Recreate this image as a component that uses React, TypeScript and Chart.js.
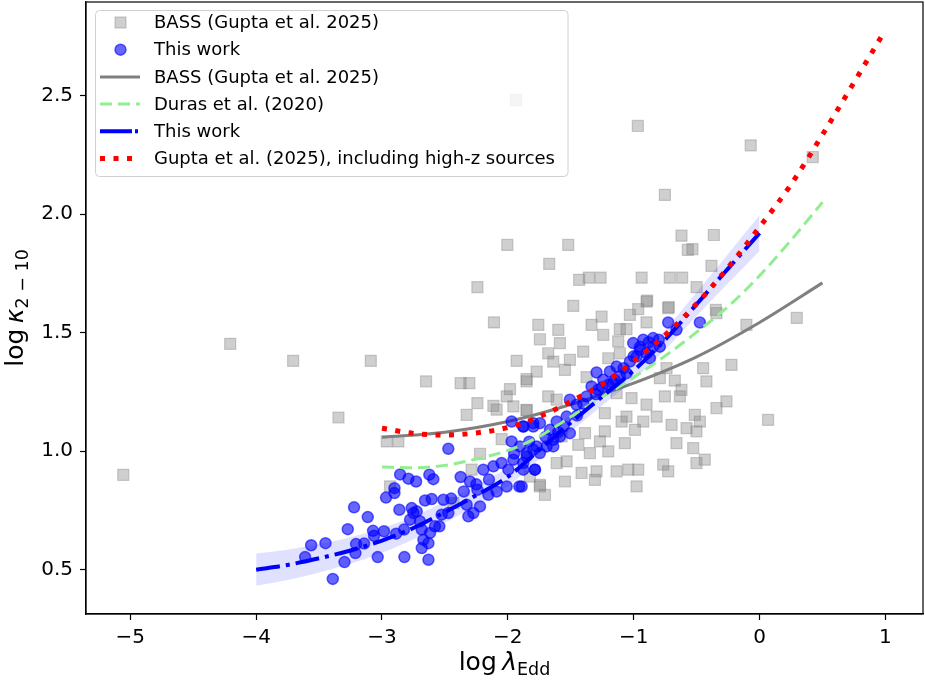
import React, { useEffect, useRef } from "react";
import { Chart, registerables } from "chart.js";

Chart.register(...registerables);

const W = 925;
const H = 683;

// ---------- data (x = log λEdd, y = log κ2-10) ----------
const bassPoints: [number, number][] = [
  [-2.650, 1.294], [-2.375, 1.287], [-2.306, 1.287], [-1.983, 1.262], [-1.851, 1.294], [-2.009, 1.231],
  [-2.242, 1.203], [-2.115, 1.191], [-1.956, 1.189], [-1.851, 1.172], [-2.327, 1.153], [-2.089, 1.175],
  [-3.346, 1.142], [-2.962, 1.041], [-2.870, 1.041], [-2.049, 1.051], [-2.221, 0.989], [-2.288, 0.922],
  [-2.936, 0.851], [-2.433, 0.781], [-1.824, 0.893], [-1.745, 0.851],
  [-1.480, 1.613], [-0.898, 1.631], [-0.726, 1.603], [-1.030, 1.575], [-1.255, 1.568], [-1.758, 1.533],
  [-1.599, 1.512], [-1.335, 1.533], [-1.110, 1.515], [-1.057, 1.515], [-0.898, 1.543], [-1.242, 1.491],
  [-1.745, 1.472], [-1.586, 1.456], [-1.123, 1.463], [-1.401, 1.420], [-1.679, 1.413], [-1.507, 1.385],
  [-1.639, 1.378], [-1.202, 1.392], [-1.771, 1.336], [-1.851, 1.304], [-1.546, 1.343], [-1.374, 1.312],
  [-1.110, 1.413], [-0.739, 1.350], [-0.792, 1.308], [-0.673, 1.298], [-0.620, 1.259], [-0.752, 1.231],
  [-1.017, 1.224], [-1.136, 1.245], [-1.679, 1.231], [-1.612, 1.217], [-1.851, 1.174], [-1.229, 1.160],
  [-0.898, 1.196], [-0.818, 1.146], [-1.057, 1.146], [-0.924, 1.125], [-0.990, 1.090], [-1.096, 1.125],
  [-1.229, 1.083], [-1.387, 1.076], [-1.268, 1.041], [-1.070, 1.034], [-1.440, 1.027], [-1.348, 0.992],
  [-1.202, 0.999], [-0.699, 1.111], [-0.580, 1.097], [-0.501, 1.083], [-0.514, 1.153], [-0.474, 1.125],
  [-0.660, 1.034], [-0.527, 1.013], [-0.435, 0.964], [-0.342, 1.182], [-0.263, 1.210], [-0.765, 0.943],
  [-0.726, 0.915], [-0.964, 0.922], [-1.043, 0.922], [-1.136, 0.915], [-1.295, 0.915], [-1.414, 0.908],
  [-1.533, 0.957], [-1.612, 0.950], [-1.745, 0.858], [-1.705, 0.816], [-1.546, 0.872], [-1.308, 0.879],
  [-0.977, 0.851], [-0.448, 1.350], [-0.422, 1.294], [-0.223, 1.364], [-0.104, 1.533], [-0.342, 1.582],
  [0.068, 1.132], [-0.633, 1.231], [-0.501, 0.950], [-1.573, 1.062],
  [-5.056, 0.900], [-4.206, 1.453], [-3.706, 1.381], [-3.089, 1.381], [-1.935, 2.481], [-0.967, 2.372],
  [-0.752, 2.081], [-0.620, 1.909], [-0.570, 1.849], [-2.004, 1.870], [-1.520, 1.870], [-1.671, 1.790],
  [-2.242, 1.692], [-1.433, 1.723], [-1.356, 1.732], [-1.263, 1.732], [-0.937, 1.732], [-0.713, 1.732],
  [-0.615, 1.732], [-0.070, 2.290], [0.423, 2.241], [0.296, 1.562], [-2.110, 1.543], [-1.930, 1.381],
  [-0.363, 1.912], [-0.533, 1.852], [-0.382, 1.782], [-0.500, 1.692], [-0.893, 1.635], [-0.721, 1.608],
  [-0.964, 1.599], [-0.347, 1.596],
];

const workPoints: [number, number][] = [
  [-3.563, 0.603], [-3.449, 0.612], [-3.611, 0.553], [-3.391, 0.461], [-3.298, 0.532], [-3.272, 0.671],
  [-3.222, 0.763], [-3.113, 0.722], [-3.206, 0.608], [-3.142, 0.610], [-3.211, 0.570], [-3.071, 0.664],
  [-3.063, 0.643], [-3.034, 0.553], [-2.984, 0.662], [-2.968, 0.804], [-2.901, 0.844], [-2.901, 0.823],
  [-2.862, 0.753], [-2.856, 0.902], [-2.790, 0.884], [-2.729, 0.872], [-2.822, 0.553], [-2.888, 0.652],
  [-2.825, 0.669], [-2.764, 0.760], [-2.750, 0.739], [-2.724, 0.746], [-2.777, 0.711], [-2.698, 0.704],
  [-2.658, 0.792], [-2.605, 0.798], [-2.512, 0.795], [-2.684, 0.669], [-2.671, 0.626], [-2.631, 0.612],
  [-2.684, 0.591], [-2.618, 0.655], [-2.579, 0.683], [-2.544, 0.683], [-2.526, 0.732], [-2.473, 0.739],
  [-2.631, 0.542], [-2.624, 0.901], [-2.592, 0.882], [-2.473, 1.010], [-2.375, 0.891], [-2.301, 0.872],
  [-2.327, 0.774], [-2.314, 0.725], [-2.274, 0.739], [-2.221, 0.767], [-2.242, 0.837], [-2.155, 0.816],
  [-2.089, 0.830], [-2.195, 0.922], [-2.115, 0.936], [-2.009, 0.851], [-1.909, 0.851], [-1.877, 0.922],
  [-1.785, 0.922], [-1.996, 0.922], [-1.956, 0.964], [-1.851, 0.978], [-1.904, 1.020], [-1.798, 1.006],
  [-1.970, 1.041], [-1.877, 1.104], [-1.798, 1.104], [-1.970, 1.125],
  [-0.726, 1.543], [-0.660, 1.512], [-0.474, 1.543], [-1.004, 1.456], [-0.924, 1.470], [-0.845, 1.477],
  [-0.792, 1.441], [-0.898, 1.413], [-0.977, 1.399], [-1.030, 1.378], [-0.871, 1.392], [-1.136, 1.357],
  [-1.189, 1.336], [-1.295, 1.332], [-1.242, 1.301], [-1.335, 1.273], [-1.282, 1.259], [-1.374, 1.231],
  [-1.507, 1.217], [-1.454, 1.196], [-1.533, 1.146], [-1.612, 1.125], [-1.665, 1.090], [-1.745, 1.118],
  [-1.798, 1.118], [-1.877, 1.104], [-1.559, 1.104], [-1.507, 1.076], [-1.639, 1.048], [-1.692, 1.020],
  [-1.771, 1.020], [-1.851, 0.992], [-1.877, 0.950], [-1.784, 0.922], [-1.890, 0.851], [-1.745, 0.992],
  [-1.639, 1.020], [-1.586, 1.062], [-1.110, 1.315], [-1.163, 1.287], [-1.057, 1.329], [-0.845, 1.441],
  [-0.951, 1.427],
  [-1.400, 1.200], [-1.300, 1.240], [-1.200, 1.280], [-1.150, 1.300], [-1.000, 1.400], [-0.950, 1.440],
  [-0.880, 1.460], [-0.800, 1.470], [-1.600, 1.080], [-1.700, 1.060], [-1.830, 1.040], [-1.950, 0.990],
  [-2.050, 0.950], [-2.150, 0.880], [-2.250, 0.860], [-2.350, 0.830], [-2.450, 0.800], [-1.450, 1.150],
  [-1.250, 1.270], [-1.080, 1.350],
];

// fitted relations
const bassFitX = [-3, -2.5, -2, -1.5, -1, -0.5, 0, 0.5];
const bassFitY = [1.059, 1.080, 1.125, 1.197, 1.287, 1.398, 1.543, 1.710];

const durasX = [-3, -2.75, -2.5, -2.25, -2, -1.75, -1.5, -1.25, -1, -0.75, -0.5, -0.25, 0, 0.25, 0.5];
const durasY = [0.933, 0.930, 0.940, 0.967, 1.003, 1.062, 1.145, 1.228, 1.311, 1.402, 1.502, 1.610, 1.740, 1.890, 2.050];

const workFitX = [-4, -3.75, -3.5, -3.25, -3, -2.75, -2.5, -2.25, -2, -1.75, -1.5, -1.25, -1, -0.75, -0.5, -0.25, 0];
const workFitY = [0.500, 0.520, 0.548, 0.581, 0.623, 0.676, 0.743, 0.814, 0.892, 1.005, 1.120, 1.230, 1.340, 1.470, 1.620, 1.770, 1.920];
const workLow = [0.432, 0.456, 0.488, 0.525, 0.571, 0.628, 0.698, 0.772, 0.852, 0.967, 1.083, 1.193, 1.302, 1.428, 1.570, 1.708, 1.845];
const workHigh = [0.568, 0.584, 0.608, 0.637, 0.675, 0.724, 0.788, 0.856, 0.932, 1.043, 1.157, 1.267, 1.378, 1.512, 1.670, 1.832, 1.995];

const guptaX = [-3, -2.75, -2.5, -2.25, -2, -1.75, -1.5, -1.25, -1, -0.75, -0.5, -0.25, 0, 0.25, 0.5, 0.75, 1];
const guptaY = [1.097, 1.075, 1.068, 1.077, 1.100, 1.145, 1.210, 1.282, 1.380, 1.490, 1.622, 1.775, 1.945, 2.125, 2.335, 2.555, 2.777];

const xTicks = [-5, -4, -3, -2, -1, 0, 1];
const yTicks = [0.5, 1.0, 1.5, 2.0, 2.5];

const legendLabels = [
  "BASS (Gupta et al. 2025)",
  "This work",
  "BASS (Gupta et al. 2025)",
  "Duras et al. (2020)",
  "This work",
  "Gupta et al. (2025), including high-z sources",
];

// ---------- styles ----------
const FONT = '"DejaVu Sans", "Liberation Sans", sans-serif';
const GRAY_FILL = "rgba(128,128,128,0.38)";
const BLUE_FILL = "rgba(0,0,255,0.6)";
const GRAY_LINE = "#808080";
const GREEN = "#90ee90";
const BLUE = "#0000ff";
const RED = "#ff0000";
const DASH_GREEN = [12, 6];
const DASH_BLUE = [24, 6, 4, 6];
const DASH_RED = [5, 8.5];

const toXY = (xs: number[], ys: number[]) => xs.map((x, i) => ({ x, y: ys[i] }));
const ptsXY = (p: [number, number][]) => p.map(([x, y]) => ({ x, y }));

const minusFmt = (v: number) => (v < 0 ? "\u2212" + Math.abs(v) : String(v));

const zeroPad = (s: any) => {
  s.paddingTop = 0;
  s.paddingBottom = 0;
  s.paddingLeft = 0;
  s.paddingRight = 0;
};

const framePlugin = {
  id: "frame",
  afterDatasetsDraw(chart: any) {
    const { ctx, chartArea: a } = chart;
    ctx.save();
    ctx.strokeStyle = "#000";
    ctx.lineWidth = 1.2;
    ctx.strokeRect(a.left, a.top, a.right - a.left, a.bottom - a.top);
    ctx.restore();
  },
};

function drawMath(ctx: CanvasRenderingContext2D, main: string, sym: string, sub: string, size: number) {
  // draws centred at (0,0) baseline
  const fMain = `${size}px ${FONT}`;
  const fSym = `italic ${size}px ${FONT}`;
  const fSub = `${size * 0.7}px ${FONT}`;
  ctx.font = fMain;
  const w1 = ctx.measureText(main).width;
  const gap = size * 0.22;
  ctx.font = fSym;
  const w2 = ctx.measureText(sym).width;
  ctx.font = fSub;
  const w3 = ctx.measureText(sub).width;
  const total = w1 + gap + w2 + w3;
  let x = -total / 2;
  ctx.textBaseline = "alphabetic";
  ctx.textAlign = "left";
  ctx.fillStyle = "#000";
  ctx.font = fMain;
  ctx.fillText(main, x, 0);
  x += w1 + gap;
  ctx.font = fSym;
  ctx.fillText(sym, x, 0);
  x += w2;
  ctx.font = fSub;
  ctx.fillText(sub, x, size * 0.2);
}

const titlePlugin = {
  id: "axisTitles",
  afterDraw(chart: any) {
    const { ctx, chartArea: a } = chart;
    ctx.save();
    ctx.translate((a.left + a.right) / 2, 670);
    drawMath(ctx, "log", "\u03bb", "Edd", 25);
    ctx.restore();
    ctx.save();
    ctx.translate(23, (a.top + a.bottom) / 2);
    ctx.rotate(-Math.PI / 2);
    drawMath(ctx, "log", "\u03ba", "2 \u2212 10", 25);
    ctx.restore();
  },
};

const legendPlugin = {
  id: "mplLegend",
  afterDraw(chart: any) {
    const ctx: CanvasRenderingContext2D = chart.ctx;
    const bx = 95.5, by = 10.5, bw = 472.5, bh = 166, r = 4;
    ctx.save();
    ctx.beginPath();
    ctx.moveTo(bx + r, by);
    ctx.lineTo(bx + bw - r, by);
    ctx.arcTo(bx + bw, by, bx + bw, by + r, r);
    ctx.lineTo(bx + bw, by + bh - r);
    ctx.arcTo(bx + bw, by + bh, bx + bw - r, by + bh, r);
    ctx.lineTo(bx + r, by + bh);
    ctx.arcTo(bx, by + bh, bx, by + bh - r, r);
    ctx.lineTo(bx, by + r);
    ctx.arcTo(bx, by, bx + r, by, r);
    ctx.closePath();
    ctx.fillStyle = "rgba(255,255,255,0.8)";
    ctx.fill();
    ctx.strokeStyle = "#d0d0d0";
    ctx.lineWidth = 1;
    ctx.stroke();

    const rowY = (i: number) => 22.5 + 27.2 * i;
    const hx0 = 100, hx1 = 140, hxc = 120.5;
    // row 0: gray square
    ctx.fillStyle = GRAY_FILL;
    ctx.strokeStyle = GRAY_FILL;
    ctx.lineWidth = 1.2;
    ctx.fillRect(hxc - 5.5, rowY(0) - 5.5, 11, 11);
    ctx.strokeRect(hxc - 5.5, rowY(0) - 5.5, 11, 11);
    // row 1: blue circle
    ctx.beginPath();
    ctx.arc(hxc, rowY(1), 5.5, 0, Math.PI * 2);
    ctx.fillStyle = BLUE_FILL;
    ctx.fill();
    ctx.strokeStyle = BLUE_FILL;
    ctx.lineWidth = 1.5;
    ctx.stroke();
    const line = (i: number, color: string, w: number, dash: number[]) => {
      ctx.beginPath();
      ctx.setLineDash(dash);
      ctx.lineCap = "butt";
      ctx.strokeStyle = color;
      ctx.lineWidth = w;
      ctx.moveTo(hx0, rowY(i));
      ctx.lineTo(hx1, rowY(i));
      ctx.stroke();
      ctx.setLineDash([]);
    };
    line(2, GRAY_LINE, 3, []);
    line(3, GREEN, 3, DASH_GREEN);
    line(4, BLUE, 4, [32, 3, 3, 3]);
    line(5, RED, 5, DASH_RED);

    ctx.fillStyle = "#000";
    ctx.font = `18px ${FONT}`;
    ctx.textBaseline = "middle";
    ctx.textAlign = "left";
    legendLabels.forEach((t, i) => ctx.fillText(t, 154, rowY(i) + 1));
    ctx.restore();
  },
};

export default function App() {
  const ref = useRef<HTMLCanvasElement | null>(null);

  useEffect(() => {
    if (!ref.current) return;
    const lineBase = {
      type: "line" as const,
      pointRadius: 0,
      pointHoverRadius: 0,
      fill: false,
      cubicInterpolationMode: "monotone" as const,
      borderCapStyle: "butt" as const,
    };
    const chart = new Chart(ref.current, {
      type: "scatter",
      data: {
        datasets: [
          {
            ...lineBase,
            label: legendLabels[5],
            data: toXY(guptaX, guptaY),
            borderColor: RED,
            borderWidth: 5,
            borderDash: DASH_RED,
            order: 0,
          },
          {
            ...lineBase,
            label: legendLabels[4],
            data: toXY(workFitX, workFitY),
            borderColor: BLUE,
            borderWidth: 4,
            borderDash: DASH_BLUE,
            order: 1,
          },
          {
            ...lineBase,
            label: legendLabels[3],
            data: toXY(durasX, durasY),
            borderColor: GREEN,
            borderWidth: 3,
            borderDash: DASH_GREEN,
            order: 2,
          },
          {
            ...lineBase,
            label: "band high",
            data: toXY(workFitX, workHigh),
            borderWidth: 0,
            borderColor: "rgba(0,0,0,0)",
            backgroundColor: "rgba(0,0,255,0.12)",
            fill: "+1",
            order: 3,
          },
          {
            ...lineBase,
            label: "band low",
            data: toXY(workFitX, workLow),
            borderWidth: 0,
            borderColor: "rgba(0,0,0,0)",
            order: 3,
          },
          {
            type: "scatter" as const,
            label: legendLabels[1],
            data: ptsXY(workPoints),
            pointStyle: "circle",
            pointRadius: 5.5,
            backgroundColor: BLUE_FILL,
            borderColor: BLUE_FILL,
            borderWidth: 1.5,
            order: 4,
          },
          {
            ...lineBase,
            label: legendLabels[2],
            data: toXY(bassFitX, bassFitY),
            borderColor: GRAY_LINE,
            borderWidth: 3,
            order: 5,
          },
          {
            type: "scatter" as const,
            label: legendLabels[0],
            data: ptsXY(bassPoints),
            pointStyle: "rect",
            pointRadius: 7.8,
            backgroundColor: GRAY_FILL,
            borderColor: GRAY_FILL,
            borderWidth: 1.2,
            order: 6,
          },
        ] as any,
      },
      options: {
        responsive: false,
        animation: false,
        events: [],
        layout: { autoPadding: false, padding: { top: 2, right: 2, left: 0, bottom: 0 } },
        plugins: {
          legend: { display: false },
          tooltip: { enabled: false },
          title: { display: false },
        },
        scales: {
          x: {
            type: "linear",
            min: -5.352,
            max: 1.299,
            afterFit: (s: any) => {
              s.height = 69;
              zeroPad(s);
            },
            afterBuildTicks: (s: any) => {
              s.ticks = xTicks.map((v) => ({ value: v }));
            },
            ticks: {
              font: { family: FONT, size: 20 },
              color: "#000",
              padding: 6,
              maxRotation: 0,
              autoSkip: false,
              callback: (v: any) => minusFmt(Number(v)),
            },
            grid: {
              display: true,
              drawOnChartArea: false,
              drawTicks: true,
              tickLength: 6,
              tickWidth: 1.2,
              tickColor: "#000",
            },
            border: { display: true, color: "#000", width: 1.2 },
          },
          y: {
            type: "linear",
            min: 0.313,
            max: 2.895,
            afterFit: (s: any) => {
              s.width = 86;
              zeroPad(s);
            },
            afterBuildTicks: (s: any) => {
              s.ticks = yTicks.map((v) => ({ value: v }));
            },
            ticks: {
              font: { family: FONT, size: 20 },
              color: "#000",
              padding: 7,
              autoSkip: false,
              callback: (v: any) => Number(v).toFixed(1),
            },
            grid: {
              display: true,
              drawOnChartArea: false,
              drawTicks: true,
              tickLength: 6,
              tickWidth: 1.2,
              tickColor: "#000",
            },
            border: { display: true, color: "#000", width: 1.2 },
          },
        },
      } as any,
      plugins: [framePlugin, titlePlugin, legendPlugin],
    });
    return () => chart.destroy();
  }, []);

  return (
    <div style={{ position: "fixed", left: 0, top: 0, width: W, height: H, background: "#fff" }}>
      <canvas ref={ref} width={W} height={H} style={{ display: "block", width: W, height: H }} />
    </div>
  );
}
